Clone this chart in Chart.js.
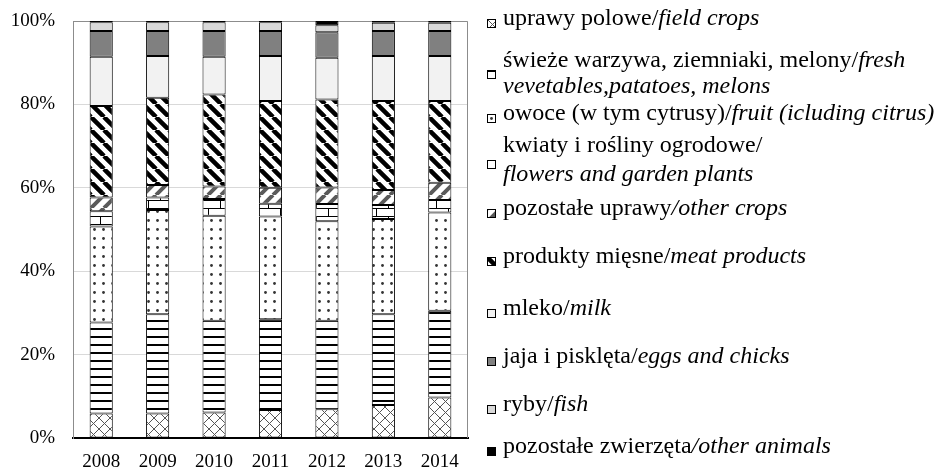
<!DOCTYPE html>
<html>
<head>
<meta charset="utf-8">
<script src="https://cdn.jsdelivr.net/npm/chart.js@4.4.0/dist/chart.umd.min.js"></script>
<style>
  body { margin: 0; background: #fff; }
  #wrap { position: relative; width: 943px; height: 468px; }
  #legend { position: absolute; left: 0; top: 0; font-family: "Liberation Serif", "Times New Roman", serif; font-size: 24px; color: #000; }
  .line { position: absolute; left: 503px; white-space: nowrap; line-height: 26px; }
  .icon { position: absolute; left: 487px; }
</style>
</head>
<body>
<div id="wrap">
  <canvas id="chart" width="943" height="468"></canvas>
  <div id="legend"></div>
</div>
<script>
// ---- dane (udział %) ----
const years = ['2008', '2009', '2010', '2011', '2012', '2013', '2014'];
const fieldCrops   = [5.9, 5.9, 6.1, 6.7, 6.9, 7.9, 9.7];
const vegetables   = [21.8, 23.8, 22.0, 21.8, 21.2, 21.8, 20.8];
const fruit        = [23.0, 25.0, 25.2, 24.6, 23.9, 22.8, 23.6];
const flowers      = [3.7, 3.0, 4.0, 3.1, 4.1, 3.4, 3.0];
const otherCrops   = [3.3, 3.0, 3.0, 3.8, 4.0, 3.6, 4.1];
const meat         = [21.9, 20.9, 22.1, 20.8, 21.1, 21.3, 19.6];
const milk         = [11.8, 10.0, 9.0, 10.8, 10.0, 10.8, 10.8];
const eggs         = [6.2, 6.0, 6.2, 6.0, 6.1, 6.0, 6.0];
const fish         = [2.1, 2.1, 2.1, 2.1, 1.7, 2.0, 2.0];
const otherAnimals = [0.3, 0.3, 0.3, 0.3, 1.0, 0.4, 0.4];
const yTicks = [0, 20, 40, 60, 80, 100];

const serif = '"Liberation Serif", "Times New Roman", serif';

// ---- wzory wypełnień ----
function pattern(w, h, draw) {
  const c = document.createElement('canvas');
  c.width = w; c.height = h;
  const g = c.getContext('2d');
  g.fillStyle = '#fff';
  g.fillRect(0, 0, w, h);
  draw(g, w, h);
  return g.createPattern(c, 'repeat');
}

const fills = [
  // uprawy polowe - kratka ukośna
  pattern(11, 11, (g, w, h) => {
    g.strokeStyle = '#555'; g.lineWidth = 1;
    g.beginPath();
    g.moveTo(-1, -1); g.lineTo(w + 1, h + 1);
    g.moveTo(w + 1, -1); g.lineTo(-1, h + 1);
    g.stroke();
  }),
  // świeże warzywa - poziome paski
  pattern(8, 8, (g, w) => {
    g.fillStyle = '#000';
    g.fillRect(0, 0, w, 2);
  }),
  // owoce - kropki
  pattern(9, 9, g => {
    g.fillStyle = '#333';
    g.beginPath(); g.arc(4.5, 4.5, 1.4, 0, Math.PI * 2); g.fill();
  }),
  // kwiaty - cegiełki
  pattern(24, 16, g => {
    g.fillStyle = '#000';
    g.fillRect(0, 0, 24, 1);
    g.fillRect(0, 8, 24, 1);
    g.fillRect(16, 0, 1, 8);
    g.fillRect(4, 8, 1, 8);
  }),
  // pozostałe uprawy - szare ukośne "/"
  pattern(13, 13, g => {
    g.strokeStyle = '#5a5a5a'; g.lineWidth = 4;
    g.beginPath();
    for (const k of [-13, 0, 13]) { g.moveTo(k, 13); g.lineTo(k + 13, 0); }
    g.stroke();
  }),
  // produkty mięsne - czarne ukośne "\"
  pattern(13, 13, g => {
    g.strokeStyle = '#000'; g.lineWidth = 4.5;
    g.beginPath();
    for (const k of [-13, 0, 13]) { g.moveTo(k, 0); g.lineTo(k + 13, 13); }
    g.stroke();
  }),
  '#f2f2f2', // mleko
  '#808080', // jaja
  '#d9d9d9', // ryby
  '#000000'  // pozostałe zwierzęta
];

const series = [fieldCrops, vegetables, fruit, flowers, otherCrops, meat, milk, eggs, fish, otherAnimals];
const names = [
  'uprawy polowe', 'świeże warzywa, ziemniaki, melony', 'owoce (w tym cytrusy)',
  'kwiaty i rośliny ogrodowe', 'pozostałe uprawy', 'produkty mięsne', 'mleko',
  'jaja i pisklęta', 'ryby', 'pozostałe zwierzęta'
];

// 100% - przeliczenie na udział w roku
const totals = years.map((_, i) => series.reduce((s, a) => s + a[i], 0));

const datasets = series.map((arr, k) => ({
  label: names[k],
  data: arr.map((v, i) => v / totals[i] * 100),
  backgroundColor: fills[k],
  borderColor: '#000',
  borderWidth: 1,
  borderSkipped: false,
  categoryPercentage: 1,
  barPercentage: 0.41
}));

// ramka obszaru wykresu
const frame = {
  id: 'frame',
  beforeDatasetsDraw(chart) {
    const { ctx, chartArea: a } = chart;
    ctx.save();
    ctx.strokeStyle = '#8c8c8c';
    ctx.lineWidth = 1;
    ctx.beginPath();
    ctx.moveTo(a.left, a.top + 0.5);
    ctx.lineTo(a.right - 0.5, a.top + 0.5);
    ctx.lineTo(a.right - 0.5, a.bottom);
    ctx.stroke();
    ctx.restore();
  }
};

new Chart(document.getElementById('chart'), {
  type: 'bar',
  data: { labels: years, datasets },
  options: {
    responsive: false,
    animation: false,
    layout: { padding: { left: 0, right: 475, top: 21, bottom: 0 } },
    plugins: { legend: { display: false }, tooltip: { enabled: false } },
    scales: {
      x: {
        stacked: true,
        grid: { display: false, drawTicks: false },
        border: { color: '#000', width: 2 },
        ticks: { color: '#000', font: { family: serif, size: 19 }, padding: 13, maxRotation: 0 },
        afterFit(s) { s.height = 30; }
      },
      y: {
        stacked: true,
        min: 0, max: 100,
        afterBuildTicks(s) { s.ticks = yTicks.map(v => ({ value: v })); },
        ticks: { color: '#000', font: { family: serif, size: 19 }, padding: 18, callback: v => v + '%' },
        grid: { color: '#d9d9d9', drawTicks: false },
        border: { color: '#8c8c8c' },
        afterFit(s) { s.width = 73; s.paddingTop = 0; s.paddingBottom = 0; }
      }
    }
  },
  plugins: [frame]
});

// ---- legenda (tekst jako HTML: część polska zwykła, angielska kursywą) ----
const legendLines = [
  { y: 20, html: 'uprawy polowe/<i>field crops</i>' },
  { y: 62, html: 'świeże warzywa, ziemniaki, melony/<i>fresh</i>' },
  { y: 88, html: '<i>vevetables,patatoes, melons</i>' },
  { y: 115, html: 'owoce (w tym cytrusy)/<i>fruit (icluding citrus)</i>' },
  { y: 147, html: 'kwiaty i rośliny ogrodowe/' },
  { y: 176, html: '<i>flowers and garden plants</i>' },
  { y: 210, html: 'pozostałe uprawy<i>/other crops</i>' },
  { y: 258, html: 'produkty mięsne/<i>meat products</i>' },
  { y: 310, html: 'mleko/<i>milk</i>' },
  { y: 358, html: 'jaja i pisklęta/<i>eggs and chicks</i>' },
  { y: 406, html: 'ryby/<i>fish</i>' },
  { y: 448, html: 'pozostałe zwierzęta<i>/other animals</i>' }
];
const iconY = [23, 74, 118, 164, 213, 261, 313, 361, 409, 451];

const legend = document.getElementById('legend');
legendLines.forEach(l => {
  const d = document.createElement('div');
  d.className = 'line';
  d.style.top = (l.y - 16) + 'px';
  d.innerHTML = l.html;
  legend.appendChild(d);
});
iconY.forEach((y, k) => {
  const c = document.createElement('canvas');
  c.width = 9; c.height = 9;
  c.className = 'icon';
  c.style.top = (y - 4) + 'px';
  const g = c.getContext('2d');
  g.fillStyle = fills[k];
  g.fillRect(0, 0, 9, 9);
  g.strokeStyle = '#000';
  g.lineWidth = 1;
  g.strokeRect(0.5, 0.5, 8, 8);
  legend.appendChild(c);
});
</script>
</body>
</html>
